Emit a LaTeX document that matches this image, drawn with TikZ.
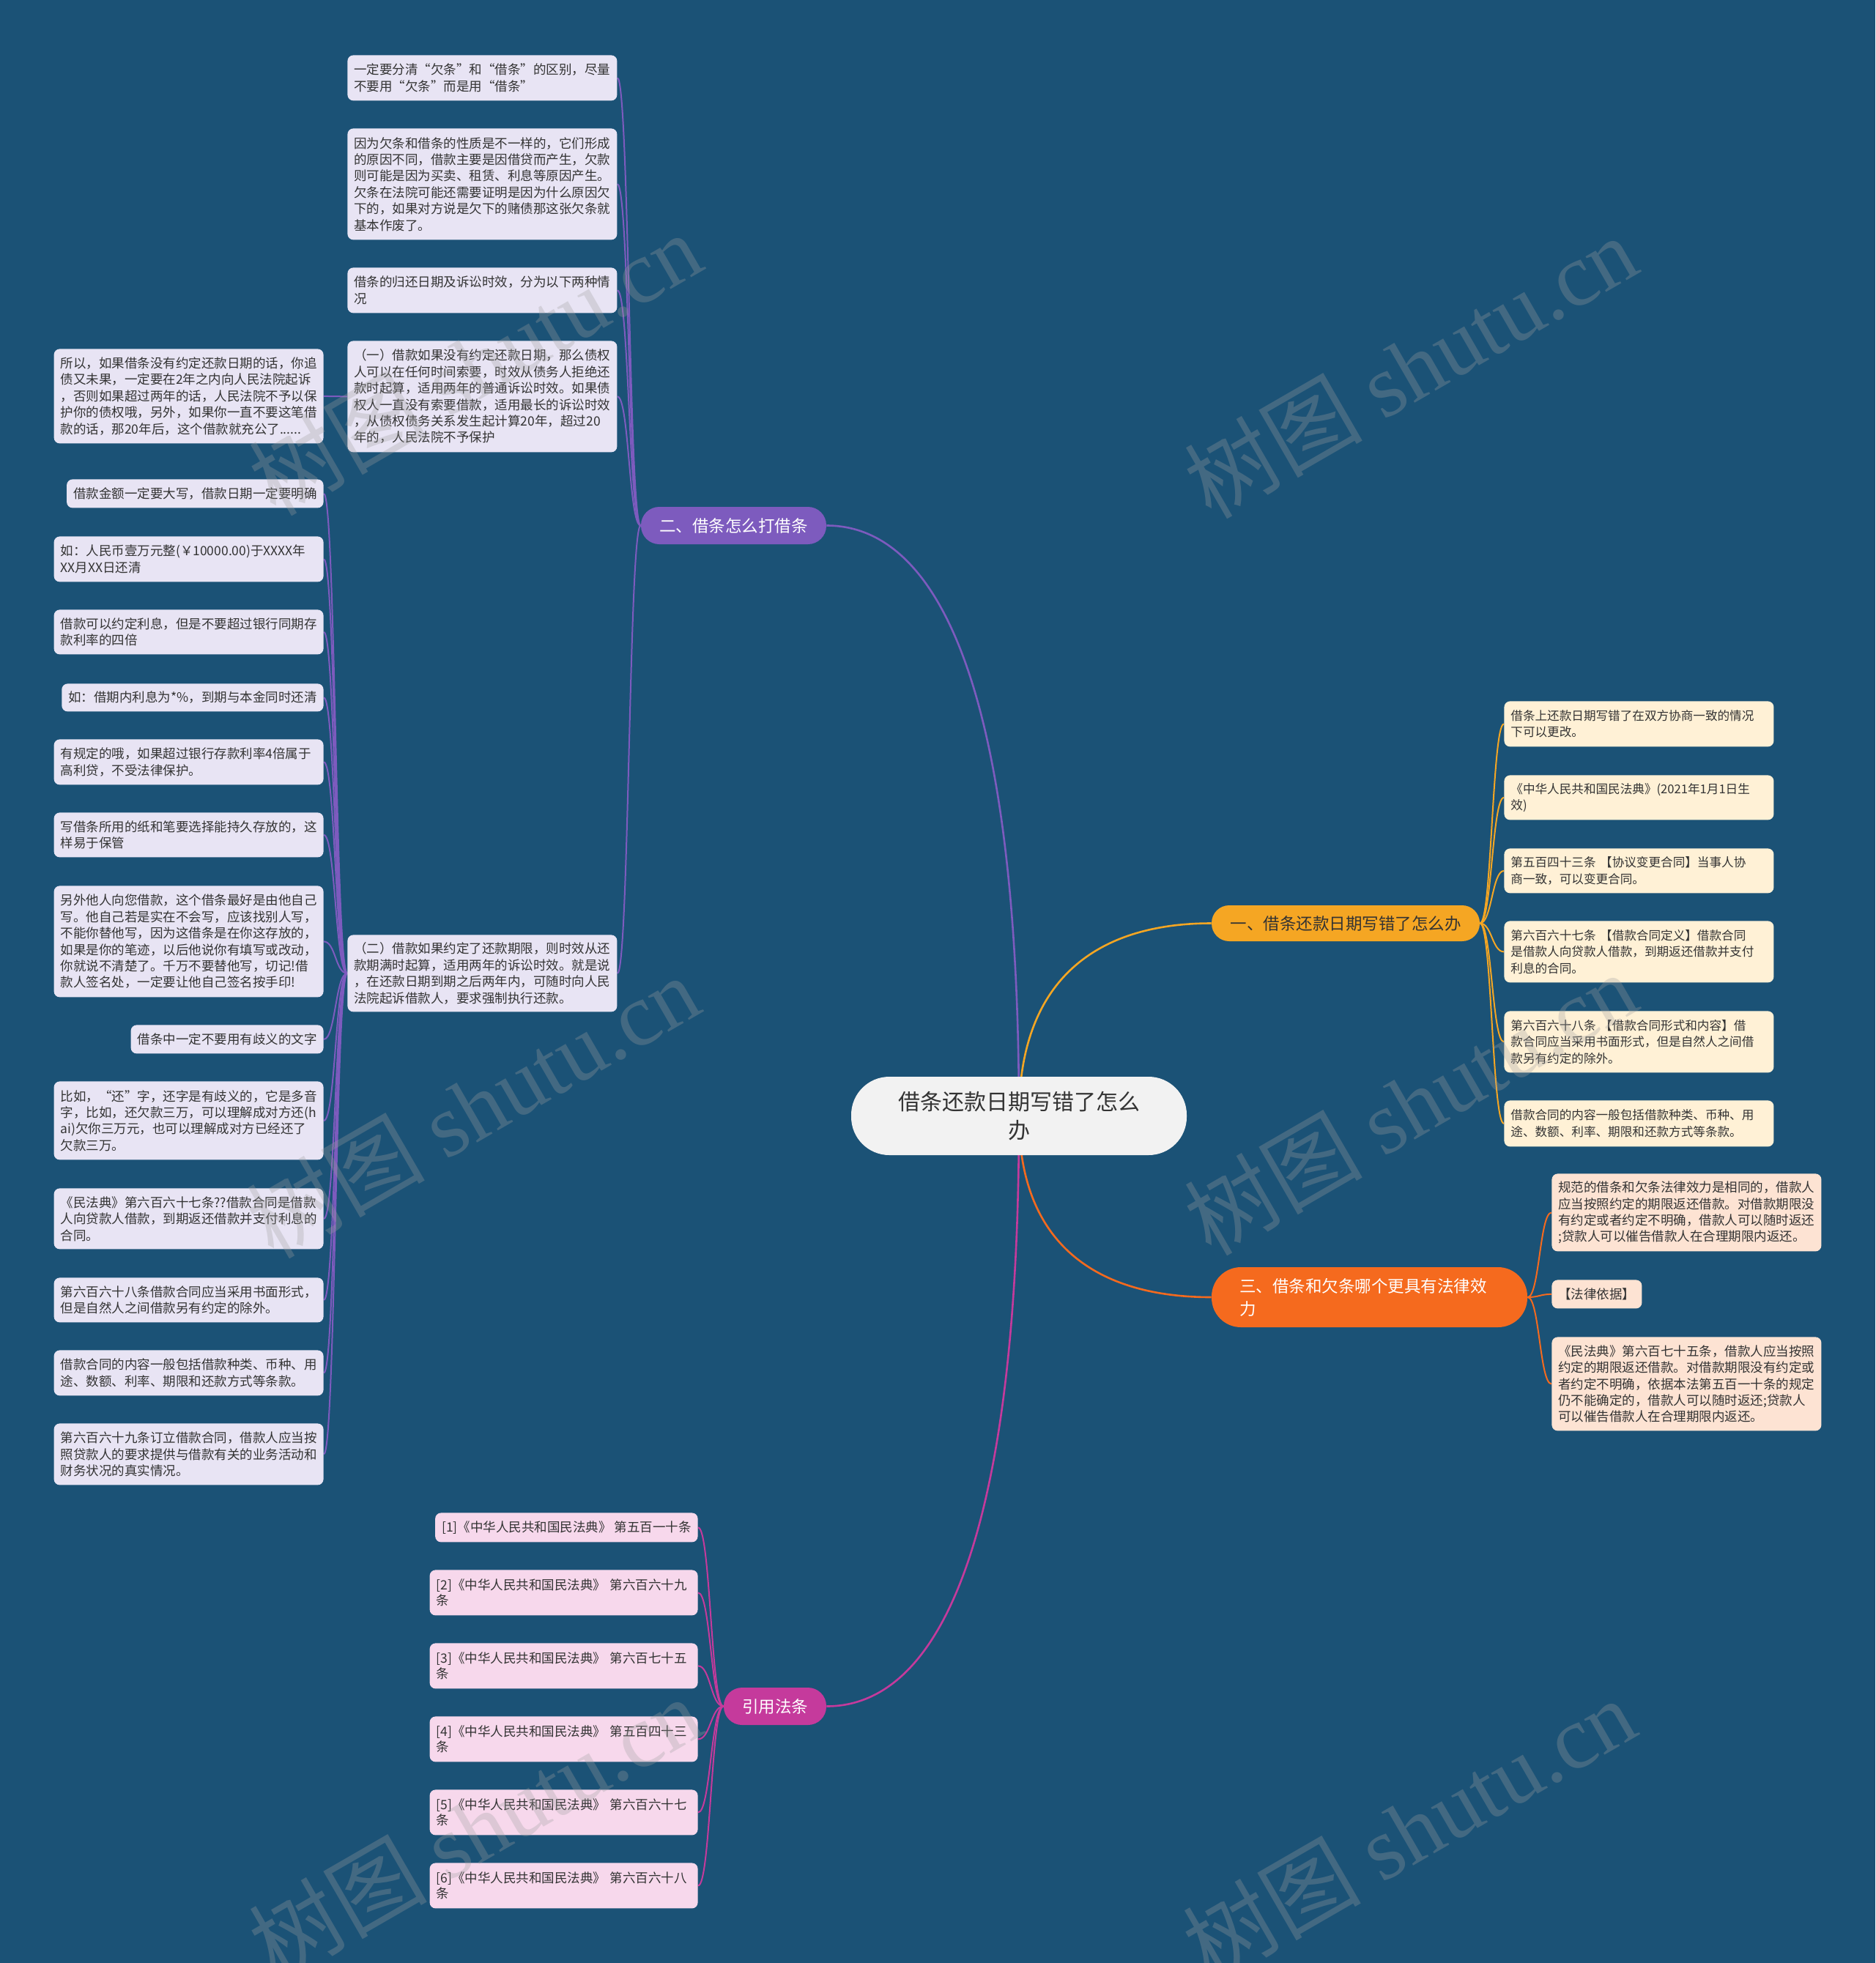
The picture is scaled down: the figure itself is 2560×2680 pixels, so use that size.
\documentclass[tikz,border=0pt]{standalone}
\usepackage{fontspec}
\setmainfont{Noto Sans CJK SC}
\newfontfamily\cjk{Noto Sans CJK SC}
\newfontfamily\wmlatin{Liberation Serif}
\usetikzlibrary{calc}
\definecolor{bgc}{HTML}{1B5276}
\definecolor{txtc}{HTML}{333333}
\definecolor{rootfill}{HTML}{F2F2F2}
\definecolor{c1}{HTML}{F5A623}
\definecolor{c2}{HTML}{7D5BBE}
\definecolor{c3}{HTML}{F56A1E}
\definecolor{c4}{HTML}{C53A9C}
\definecolor{f1}{HTML}{FFF1D6}
\definecolor{f2}{HTML}{E8E4F4}
\definecolor{f3}{HTML}{FDE3D3}
\definecolor{f4}{HTML}{F7D8EC}
\definecolor{wmc}{HTML}{A0A0A0}
\pgfdeclarelayer{bglayer}
\pgfdeclarelayer{linelayer}
\pgfsetlayers{bglayer,linelayer,main}
\tikzset{
  leaf/.style={anchor=north west, rounded corners=4pt, inner xsep=4.5pt, inner ysep=0pt, align=left, text=txtc},
  wide/.style={text width=175pt},
  ne/.style={anchor=north east},
  purbox/.style={leaf, fill=f2, font=\cjk\fontsize{8.75pt}{11.2pt}\selectfont},
  yelbox/.style={leaf, fill=f1, font=\cjk\fontsize{8.3pt}{11.25pt}\selectfont},
  orabox/.style={leaf, fill=f3, font=\cjk\fontsize{8.75pt}{11.1pt}\selectfont},
  pinkbox/.style={leaf, fill=f4, font=\cjk\fontsize{8.75pt}{10.7pt}\selectfont},
  branch/.style={anchor=center, inner sep=0pt, align=center, font=\cjk\fontsize{11.25pt}{15.5pt}\selectfont},
  trunk/.style={line width=1.3pt},
  twig/.style={line width=1pt},
}
\begin{document}
\begin{tikzpicture}[x=0.5pt,y=-0.5pt]
\useasboundingbox (0,0) rectangle (2560,2680);
\begin{pgfonlayer}{bglayer}
\fill[bgc] (0,0) rectangle (2560,2680);
\end{pgfonlayer}

% root and branches
\node[anchor=center, fill=rootfill, text=txtc, rounded corners=26pt, minimum width=229pt, minimum height=53.5pt, inner sep=0pt, align=center, font=\cjk\fontsize{15pt}{19.5pt}\selectfont] (root) at (1391,1523.5) {借条还款日期写错了怎么\\办};
\node[branch, fill=c1, text=txtc, minimum width=183pt, minimum height=24.5pt, rounded corners=12pt] (b1) at (1837,1260.5) {一、借条还款日期写错了怎么办};
\node[branch, fill=c2, text=white, minimum width=126.5pt, minimum height=25.5pt, rounded corners=12.5pt] (b2) at (1001.5,717.5) {二、借条怎么打借条};
\node[branch, fill=c3, text=white, align=left, text width=177.5pt, inner xsep=19pt, minimum height=41pt, rounded corners=20pt] (b3) at (1869.5,1771) {三、借条和欠条哪个更具有法律效\\力};
\node[branch, fill=c4, text=white, minimum width=70pt, minimum height=25.5pt, rounded corners=12.5pt] (b4) at (1058,2329.5) {引用法条};

% branch 2 children
\node[purbox, wide, minimum height=31pt] (a1) at (474,75) {一定要分清“欠条”和“借条”的区别，尽量\\不要用“欠条”而是用“借条”};
\node[purbox, wide, minimum height=76pt] (a2) at (474,175) {因为欠条和借条的性质是不一样的，它们形成\\的原因不同，借款主要是因借贷而产生，欠款\\则可能是因为买卖、租赁、利息等原因产生。\\欠条在法院可能还需要证明是因为什么原因欠\\下的，如果对方说是欠下的赌债那这张欠条就\\基本作废了。};
\node[purbox, wide, minimum height=31pt] (a3) at (474,365) {借条的归还日期及诉讼时效，分为以下两种情\\况};
\node[purbox, wide, minimum height=76pt] (a4) at (474,465) {（一）借款如果没有约定还款日期，那么债权\\人可以在任何时间索要，时效从债务人拒绝还\\款时起算，适用两年的普通诉讼时效。如果债\\权人一直没有索要借款，适用最长的诉讼时效\\，从债权债务关系发生起计算20年，超过20\\年的，人民法院不予保护};
\node[purbox, wide, minimum height=52.5pt] (a5) at (474,1276) {（二）借款如果约定了还款期限，则时效从还\\款期满时起算，适用两年的诉讼时效。就是说\\，在还款日期到期之后两年内，可随时向人民\\法院起诉借款人，要求强制执行还款。};
\node[purbox, wide, ne, minimum height=64.5pt] (g1) at (442,476) {所以，如果借条没有约定还款日期的话，你追\\债又未果，一定要在2年之内向人民法院起诉\\，否则如果超过两年的话，人民法院不予以保\\护你的债权哦，另外，如果你一直不要这笔借\\款的话，那20年后，这个借款就充公了......};

\node[purbox, ne, minimum height=19.5pt] (l1) at (442,654) {借款金额一定要大写，借款日期一定要明确};
\node[purbox, wide, ne, minimum height=31pt] (l2) at (442,732) {如：人民币壹万元整(￥10000.00)于XXXX年\\XX月XX日还清};
\node[purbox, wide, ne, minimum height=30.5pt] (l3) at (442,832) {借款可以约定利息，但是不要超过银行同期存\\款利率的四倍};
\node[purbox, ne, minimum height=19pt] (l4) at (442,933) {如：借期内利息为*\%，到期与本金同时还清};
\node[purbox, wide, ne, minimum height=31pt] (l5) at (442,1009) {有规定的哦，如果超过银行存款利率4倍属于\\高利贷，不受法律保护。};
\node[purbox, wide, ne, minimum height=30.5pt] (l6) at (442,1109) {写借条所用的纸和笔要选择能持久存放的，这\\样易于保管};
\node[purbox, wide, ne, minimum height=76pt] (l7) at (442,1209) {另外他人向您借款，这个借条最好是由他自己\\写。他自己若是实在不会写，应该找别人写，\\不能你替他写，因为这借条是在你这存放的，\\如果是你的笔迹，以后他说你有填写或改动，\\你就说不清楚了。千万不要替他写，切记!借\\款人签名处，一定要让他自己签名按手印!};
\node[purbox, ne, minimum height=19.5pt] (l8) at (442,1399) {借条中一定不要用有歧义的文字};
\node[purbox, wide, ne, minimum height=53.5pt] (l9) at (442,1476) {比如，“还”字，还字是有歧义的，它是多音\\字，比如，还欠款三万，可以理解成对方还(h\\ai)欠你三万元，也可以理解成对方已经还了\\欠款三万。};
\node[purbox, wide, ne, minimum height=41.5pt] (l10) at (442,1622) {《民法典》第六百六十七条??借款合同是借款\\人向贷款人借款，到期返还借款并支付利息的\\合同。};
\node[purbox, wide, ne, minimum height=30.5pt] (l11) at (442,1744) {第六百六十八条借款合同应当采用书面形式，\\但是自然人之间借款另有约定的除外。};
\node[purbox, wide, ne, minimum height=31pt] (l12) at (442,1843) {借款合同的内容一般包括借款种类、币种、用\\途、数额、利率、期限和还款方式等条款。};
\node[purbox, wide, ne, minimum height=42pt] (l13) at (442,1943) {第六百六十九条订立借款合同，借款人应当按\\照贷款人的要求提供与借款有关的业务活动和\\财务状况的真实情况。};

% branch 1 children
\node[yelbox, wide, minimum height=31pt] (r1) at (2053,957) {借条上还款日期写错了在双方协商一致的情况\\下可以更改。};
\node[yelbox, wide, minimum height=30.5pt] (r2) at (2053,1058) {《中华人民共和国民法典》(2021年1月1日生\\效)};
\node[yelbox, wide, minimum height=30.5pt] (r3) at (2053,1158) {第五百四十三条~【协议变更合同】当事人协\\商一致，可以变更合同。};
\node[yelbox, wide, minimum height=42pt] (r4) at (2053,1257) {第六百六十七条~【借款合同定义】借款合同\\是借款人向贷款人借款，到期返还借款并支付\\利息的合同。};
\node[yelbox, wide, minimum height=42pt] (r5) at (2053,1380) {第六百六十八条~【借款合同形式和内容】借\\款合同应当采用书面形式，但是自然人之间借\\款另有约定的除外。};
\node[yelbox, wide, minimum height=31.5pt] (r6) at (2053,1502) {借款合同的内容一般包括借款种类、币种、用\\途、数额、利率、期限和还款方式等条款。};

% branch 3 children
\node[orabox, wide, minimum height=53pt] (o1) at (2118,1602) {规范的借条和欠条法律效力是相同的，借款人\\应当按照约定的期限返还借款。对借款期限没\\有约定或者约定不明确，借款人可以随时返还\\;贷款人可以催告借款人在合理期限内返还。};
\node[orabox, minimum height=19.5pt] (o2) at (2118,1747) {【法律依据】};
\node[orabox, wide, minimum height=64pt] (o3) at (2118,1825) {《民法典》第六百七十五条，借款人应当按照\\约定的期限返还借款。对借款期限没有约定或\\者约定不明确，依据本法第五百一十条的规定\\仍不能确定的，借款人可以随时返还;贷款人\\可以催告借款人在合理期限内返还。};

% branch 4 children
\node[pinkbox, ne, minimum height=20pt] (p1) at (953,2065) {[1]《中华人民共和国民法典》~第五百一十条};
\node[pinkbox, ne, text width=174pt, minimum height=31pt] (p2) at (953,2143) {[2]《中华人民共和国民法典》~第六百六十九\\条};
\node[pinkbox, ne, text width=174pt, minimum height=31pt] (p3) at (953,2243) {[3]《中华人民共和国民法典》~第六百七十五\\条};
\node[pinkbox, ne, text width=174pt, minimum height=31pt] (p4) at (953,2343) {[4]《中华人民共和国民法典》~第五百四十三\\条};
\node[pinkbox, ne, text width=174pt, minimum height=31pt] (p5) at (953,2443) {[5]《中华人民共和国民法典》~第六百六十七\\条};
\node[pinkbox, ne, text width=174pt, minimum height=31pt] (p6) at (953,2543) {[6]《中华人民共和国民法典》~第六百六十八\\条};

% connectors
\begin{pgfonlayer}{linelayer}
\draw[trunk, c1] (root.center) .. controls ($(root.center)!0.75!(root.center |- b1.west)$) and ($(b1.west)!0.55!(root.center |- b1.west)$) .. (b1.west);
\draw[trunk, c2] (root.center) .. controls ($(root.center)!0.75!(root.center |- b2.east)$) and ($(b2.east)!0.55!(root.center |- b2.east)$) .. (b2.east);
\draw[trunk, c3] (root.center) .. controls ($(root.center)!0.75!(root.center |- b3.west)$) and ($(b3.west)!0.55!(root.center |- b3.west)$) .. (b3.west);
\draw[trunk, c4] (root.center) .. controls ($(root.center)!0.75!(root.center |- b4.east)$) and ($(b4.east)!0.55!(root.center |- b4.east)$) .. (b4.east);
\foreach \n in {a1,a2,a3,a4,a5}
  \draw[twig, c2] (b2.west) .. controls +(-16,0) and +(16,0) .. (\n.east);
\draw[twig, c2] (a4.west) .. controls +(-16,0) and +(16,0) .. (g1.east);
\foreach \n in {l1,l2,l3,l4,l5,l6,l7,l8,l9,l10,l11,l12,l13}
  \draw[twig, c2] (a5.west) .. controls +(-16,0) and +(16,0) .. (\n.east);
\foreach \n in {r1,r2,r3,r4,r5,r6}
  \draw[twig, c1] (b1.east) .. controls +(16,0) and +(-16,0) .. (\n.west);
\foreach \n in {o1,o2,o3}
  \draw[twig, c3] (b3.east) .. controls +(16,0) and +(-16,0) .. (\n.west);
\foreach \n in {p1,p2,p3,p4,p5,p6}
  \draw[twig, c4] (b4.west) .. controls +(-17,0) and +(17,0) .. (\n.east);
\end{pgfonlayer}

% watermarks
\foreach \x/\y [count=\i] in {648/496, 1925/500, 645/1510, 1925/1506, 648/2495, 1923/2497}
  \node[rotate=30, text=wmc, opacity=0.3, inner sep=0pt, font=\fontsize{61pt}{61pt}\selectfont] (wm\i) at (\x,\y) {\cjk 树图 \wmlatin shutu.cn};
\end{tikzpicture}
\end{document}
